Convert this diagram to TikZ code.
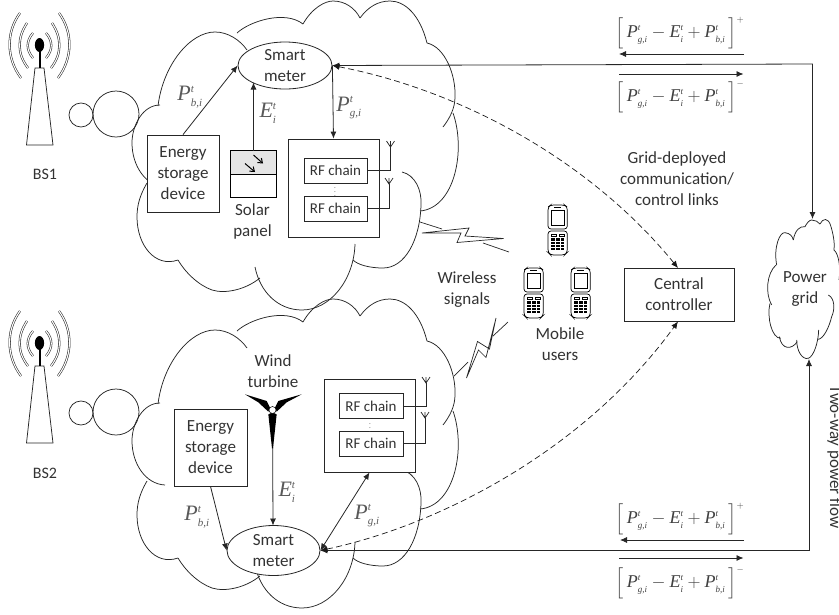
\documentclass[tikz,border=0pt]{standalone}
\usepackage{fix-cm}
\usepackage{amsmath}
\usepackage{fontspec}
\setmainfont{Carlito}
\newfontfamily\tms{Liberation Serif}
\usetikzlibrary{arrows.meta,shapes.geometric}
\newcommand\tv[1]{\text{\tms\itshape #1}}
\newcommand\sv[1]{{\scriptscriptstyle\tv{#1}}}
\newcommand\Pv[1]{\tv{P}^{\sv{t}}_{\sv{#1}}}
\newcommand\Ev{\tv{E}^{\sv{t}}_{\sv{i}}}
\newcommand\fml[1]{$\left[\rule[-8pt]{0pt}{17pt}\,\Pv{g,i}-\Ev+\Pv{b,i}\,\right]^{\scriptscriptstyle #1}$}
\newcommand\cloudlobes{%
 \draw[lobe] (165,187) .. controls (145,186) and (132,165) .. (132,143) .. controls (132,125) and (143,105) .. (160,105);
 \draw[lobe] (158,106) .. controls (163,65) and (190,32) .. (215,32) .. controls (228,32) and (240,40) .. (247,50);
 \draw[lobe] (237,33) .. controls (250,21) and (285,10) .. (303,24);
 \draw[lobe] (303,24) .. controls (312,8) and (325,1) .. (333,1) .. controls (345,1) and (355,8) .. (360,18);
 \draw[lobe] (360,18) .. controls (368,7) and (378,1) .. (390,1) .. controls (405,1) and (420,15) .. (427,43);
 \draw[lobe] (427,43) .. controls (445,47) and (456,75) .. (455,97) .. controls (455,108) and (450,118) .. (443,127);
 \draw[lobe] (453,113) .. controls (466,150) and (455,208) .. (420,211);
 \draw[lobe] (402,172) .. controls (415,175) and (422,190) .. (421,205) .. controls (420,240) and (405,268) .. (383,268) .. controls (370,268) and (358,265) .. (353,260);
 \draw[lobe] (355,244) .. controls (354,280) and (330,310) .. (302,310) .. controls (278,310) and (260,292) .. (255,267);
 \draw[lobe] (260,278) .. controls (245,290) and (225,294) .. (212,290) .. controls (198,285) and (185,272) .. (178,260);
 \draw[lobe] (178,260) .. controls (155,268) and (137,245) .. (137,217) .. controls (137,205) and (140,195) .. (147,183);
}
\newcommand\tower{%
 \draw[lobe] (35,68) -- (44,68) -- (53,145) -- (26.5,145) -- cycle;
 \draw[line width=2pt] (39.5,68) -- (39.5,50);
 \fill (39.5,45) ellipse [x radius=4.6,y radius=7];
 \draw[wave] (20,13) .. controls (6,32) and (6,58) .. (21,78);
 \draw[wave] (27,23) .. controls (17,38) and (17,54) .. (28,68);
 \draw[wave] (33,33) .. controls (26,41) and (26,50) .. (33,58);
 \draw[wave] (59,13) .. controls (73,32) and (73,58) .. (58,78);
 \draw[wave] (52,23) .. controls (62,38) and (62,54) .. (51,68);
 \draw[wave] (46,33) .. controls (53,41) and (53,50) .. (46,58);
}
\newcommand\mphone[1]{%
 \begin{scope}[shift={(#1)},scale=.3333]
  \draw[line width=.7pt,rounded corners=3pt] (0,6) -- (8,0) -- (50,0) -- (58,6) -- (58,72) -- (0,72) -- cycle;
  \draw[line width=.5pt] (10,17) rectangle (48,62);
  \draw[line width=.6pt] (18,8) -- (40,8);
  \draw[line width=.7pt,rounded corners=3pt] (0,78) -- (58,78) -- (58,142) -- (50,150) -- (8,150) -- (0,142) -- cycle;
  \draw[line width=.5pt] (10,88) rectangle (25,95) (33,88) rectangle (48,95);
  \fill (10,100) rectangle (48,135);
  \draw[white,line width=.4pt] (22.5,100) -- (22.5,135) (35.5,100) -- (35.5,135)
    (10,109) -- (48,109) (10,118) -- (48,118) (10,127) -- (48,127);
 \end{scope}
}
\newcommand\antenna[1]{%
 \draw[thinl] (#1) ++(-4,-6) -- ++(4,6) -- ++(4,-6) (#1) ++(0,-6) -- (#1);
}
\tikzset{
 lobe/.style={line width=.75pt,draw=black!85},
 wave/.style={double=white,draw=black!85,line width=.55pt,double distance=1.1pt},
 thinl/.style={line width=.7pt,draw=black!85},
 conn/.style={line width=.8pt,draw=black!85},
 atip/.style={-{Latex[length=7pt,width=6pt]}},
 atips/.style={{Latex[length=7pt,width=6pt]}-{Latex[length=7pt,width=6pt]}},
 dashl/.style={line width=.7pt,draw=black!90,dash pattern=on 6pt off 3.5pt},
 box/.style={draw=black!85,fill=white,line width=.8pt,inner sep=0pt,align=center},
 meter/.style={ellipse,draw=black!85,fill=white,line width=.8pt,inner sep=0pt,align=center},
 txt/.style={align=center,inner sep=0pt,text=black!80},
 rf/.style={box,font=\fontsize{15}{18}\selectfont,text=black!80},
 plab/.style={inner sep=0pt,text=black!65,font=\fontsize{22}{26}\selectfont},
 fm/.style={inner sep=0pt,text=black!75,font=\fontsize{18}{22}\selectfont},
 circ/.style={circle,draw=black!85,line width=.75pt,inner sep=0pt},
 every node/.append style={font=\fontsize{17}{21}\selectfont}
}
\begin{document}
\begin{tikzpicture}[x=1pt,y=-1pt]
\useasboundingbox (0,0) rectangle (839,614);
% clouds
\cloudlobes
\begin{scope}[shift={(0,298)}]\cloudlobes\end{scope}
% towers
\tower
\begin{scope}[shift={(0,298)}]\tower\end{scope}
\node[circ,minimum size=24pt] (ca1) at (81,115) {};
\node[circ,minimum size=46pt] (cb1) at (116,114) {};
\node[circ,minimum size=24pt] (ca2) at (81,413) {};
\node[circ,minimum size=46pt] (cb2) at (116,412) {};
\node[txt,font=\fontsize{16}{20}\selectfont] (bs1) at (45,174) {BS1};
\node[txt,font=\fontsize{16}{20}\selectfont] (bs2) at (45,473) {BS2};
% BS1 content
\node[meter,minimum width=94pt,minimum height=47pt,text=black!80] (m1) at (285,65.5) {Smart\\meter};
\node[box,minimum width=72pt,minimum height=77pt,text=black!80] (esd1) at (183,173.5) {Energy\\storage\\device};
\node[box,minimum width=91pt,minimum height=98pt] (rfb1) at (333.5,188) {};
\node[rf,minimum width=63pt,minimum height=25pt] (rf11) at (335.5,170.5) {RF chain};
\node[rf,minimum width=63pt,minimum height=25pt] (rf12) at (335.5,208.5) {RF chain};
\node[inner sep=0pt,font=\fontsize{7}{7}\selectfont,text=black!70] (dots1) at (335,189.5) {$\vdots$};
\coordinate (an11) at (390.5,147);
\coordinate (an12) at (389,184);
\draw[thinl] (rf11.east) -| (an11);
\draw[thinl] (rf12.east) -| (an12);
\antenna{an11}\antenna{an12}
% solar panel
\node[minimum width=45pt,minimum height=46pt,inner sep=0pt] (solar) at (253.5,174) {};
\fill[black!10] (solar.north west) rectangle (solar.east);
\draw[black,line width=1pt] (solar.north west) rectangle (solar.south east);
\draw[black,line width=1pt] (solar.west) -- (solar.east);
\coordinate (s1a) at (253.5,155); \coordinate (s1b) at (263,163.5);
\coordinate (s2a) at (245,163.5); \coordinate (s2b) at (255,172);
\draw[line width=1pt,-{Straight Barb[length=4pt,width=6pt]}] (s1a) -- (s1b);
\draw[line width=1pt,-{Straight Barb[length=4pt,width=6pt]}] (s2a) -- (s2b);
\node[txt] (solart) at (252.5,221.5) {Solar\\panel};
% BS1 connectors
\coordinate (et1) at (253.5,82.5);
\draw[conn,atip] (esd1.north) -- (m1.west);
\draw[conn,atip] (solar.north) -- (et1);
\draw[conn,atip] (m1.east) -- (rfb1.north);
\node[plab] (pb1) at (190,97) {$\Pv{b,i}$};
\node[plab] (e1) at (268,113) {$\Ev$};
\node[plab] (pg1) at (349,108) {$\Pv{g,i}$};
% BS2 content
\node[meter,minimum width=93pt,minimum height=50pt,text=black!80] (m2) at (273.5,550.5) {Smart\\meter};
\node[box,minimum width=73pt,minimum height=77pt,text=black!80] (esd2) at (210.5,447.5) {Energy\\storage\\device};
\node[box,minimum width=91pt,minimum height=93pt] (rfb2) at (369.5,425.5) {};
\node[rf,minimum width=64pt,minimum height=25pt] (rf21) at (371,406) {RF chain};
\node[rf,minimum width=64pt,minimum height=25pt] (rf22) at (371,443.5) {RF chain};
\node[inner sep=0pt,font=\fontsize{7}{7}\selectfont,text=black!70] (dots2) at (370,425) {$\vdots$};
\coordinate (an21) at (426,383);
\coordinate (an22) at (425,418);
\draw[thinl] (rf21.east) -| (an21);
\draw[thinl] (rf22.east) -| (an22);
\antenna{an21}\antenna{an22}
% wind turbine
\coordinate (et2) at (273,525.5);
\coordinate (hub) at (272.5,410);
\draw[conn,atip] (hub) -- (et2);
\begin{scope}[shift={(235,385)},scale=.3333]
 \fill (30,28) -- (95,48) -- (105,68) -- (100,80) -- (70,52) -- cycle;
 \fill (200,28) -- (130,48) -- (120,68) -- (125,80) -- (155,52) -- cycle;
 \fill (100,88) -- (112,82) -- (125,88) -- (114,190) -- (111,190) -- cycle;
\end{scope}
\node[circle,fill=white,draw=black,line width=.5pt,minimum size=7pt,inner sep=0pt] (hubc) at (hub) {};
\node[txt] (windt) at (273,371.5) {Wind\\turbine};
\draw[conn,atip] (esd2.south) -- (m2.west);
\draw[conn,atips] (m2.east) -- (rfb2.south);
\node[plab] (pb2) at (197,517) {$\Pv{b,i}$};
\node[plab] (e2) at (287,492) {$\Ev$};
\node[plab] (pg2) at (367,516) {$\Pv{g,i}$};
% lightning
\coordinate (la1) at (422,233); \coordinate (la2) at (469,228); \coordinate (la3) at (465,236);
\coordinate (la4) at (503.5,238.5); \coordinate (la5) at (457,242.5); \coordinate (la6) at (461,233);
\draw[thinl,line join=miter] (la1) -- (la2) -- (la3) -- (la4) -- (la5) -- (la6) -- cycle;
\coordinate (ls1a) at (420,222); \coordinate (ls1b) at (442,229);
\coordinate (ls2a) at (483,243); \coordinate (ls2b) at (509,252);
\draw[thinl] (ls1a) -- (ls1b) (ls2a) -- (ls2b);
\coordinate (lb1) at (496,318); \coordinate (lb2) at (486,357.5); \coordinate (lb3) at (478.5,350);
\coordinate (lb4) at (466.5,378); \coordinate (lb5) at (477.5,341.5); \coordinate (lb6) at (489.5,349);
\draw[thinl] (lb1) -- (lb2) -- (lb3) -- (lb4) -- (lb5) -- (lb6) -- cycle;
\coordinate (ls3a) at (508,322); \coordinate (ls3b) at (493,336);
\coordinate (ls4a) at (468,362); \coordinate (ls4b) at (454,376);
\draw[thinl] (ls3a) -- (ls3b) (ls4a) -- (ls4b);
% phones
\mphone{548,205}
\mphone{524,268}
\mphone{571,268}
\node[txt] (wl) at (467,290) {Wireless\\signals};
\node[txt] (mu) at (560,344) {Mobile\\users};
% central controller
\node[box,minimum width=110pt,minimum height=53pt,text=black!80] (cc) at (679,294.5) {Central\\controller};
\node[txt] (gd) at (677,179) {Grid-deployed\\communication/\\control links};
% power grid
\begin{scope}[shift={(760,210)},scale=.3333]
 \draw[lobe] (50,165) .. controls (40,110) and (60,65) .. (75,68) .. controls (90,70) and (97,78) .. (100,90);
 \draw[lobe] (100,90) .. controls (105,60) and (120,48) .. (135,50) .. controls (140,40) and (148,30) .. (155,30) .. controls (165,30) and (175,35) .. (180,42);
 \draw[lobe] (180,42) .. controls (188,25) and (205,20) .. (213,50) .. controls (222,80) and (224,105) .. (222,120);
 \draw[lobe] (222,120) .. controls (235,130) and (243,170) .. (237,210);
 \draw[lobe] (205,255) .. controls (225,265) and (225,300) .. (215,320) .. controls (208,350) and (190,390) .. (172,388);
 \draw[lobe] (176,360) .. controls (175,400) and (160,440) .. (145,445) .. controls (125,450) and (110,420) .. (110,390);
 \draw[lobe] (112,395) .. controls (95,420) and (65,420) .. (58,380);
 \draw[lobe] (62,385) .. controls (35,385) and (20,320) .. (30,280);
 \draw[lobe] (35,285) .. controls (15,250) and (20,190) .. (48,165);
\end{scope}
\node[txt] (pgt) at (805,289) {Power\\grid};
\coordinate (pgtop) at (812.5,219);
\coordinate (pgbot) at (809,359);
\coordinate (tr) at (812.5,64);
\coordinate (br) at (809,550.5);
\draw[conn,atips] (m1.east) -- (tr) -- (pgtop);
\draw[conn,atips] (m2.east) -- (br) -- (pgbot);
\coordinate (cct) at (678,268);
\coordinate (ccb) at (678,321.5);
\draw[dashl,atips] (m1.east) .. controls (460,90) and (590,160) .. (cct);
\draw[dashl,atips] (m2.east) .. controls (440,525) and (585,450) .. (ccb);
% flow arrows and formulas
\coordinate (f1a) at (744,54); \coordinate (f1b) at (619,54);
\coordinate (f2a) at (619,74); \coordinate (f2b) at (743.5,74);
\coordinate (f3a) at (744,540); \coordinate (f3b) at (620,540);
\coordinate (f4a) at (619,558); \coordinate (f4b) at (743.5,558);
\draw[conn,atip] (f1a) -- (f1b);
\draw[conn,atip] (f2a) -- (f2b);
\draw[conn,atip] (f3a) -- (f3b);
\draw[conn,atip] (f4a) -- (f4b);
\node[fm] (ft1) at (680,33) {\fml{+}};
\node[fm] (ft2) at (680,97) {\fml{-}};
\node[fm] (ft3) at (680,519) {\fml{+}};
\node[fm] (ft4) at (680,583) {\fml{-}};
\node[inner sep=0pt,anchor=base,rotate=-90,text=black!80] (twoway) at (830,457) {Two-way power flow};
\end{tikzpicture}
\end{document}
